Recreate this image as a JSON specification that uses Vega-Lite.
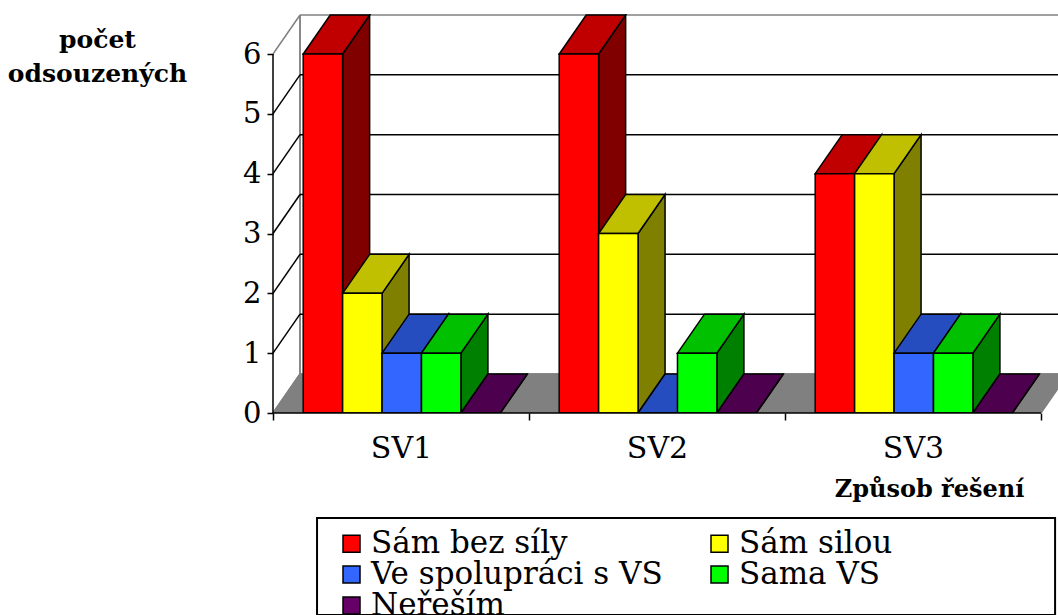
{"$schema":"https://vega.github.io/schema/vega-lite/v6.json","width":785,"height":399,"autosize":{"type":"none"},"padding":{"left":273,"top":14,"right":0,"bottom":202},"background":"white","config":{"view":{"stroke":null},"font":"DejaVu Serif"},
"layer":[
{"data":{"values":[{"surface":"left"},{"surface":"back"}]},"mark":{"type":"rule","color":"#808080","strokeWidth":1.5,"clip":true},"encoding":{"x":{"datum":0.1055,"type":"quantitative","scale":{"domain":[0,3.0664],"nice":false,"zero":false},"axis":{"values":[0,1,2,3],"labelExpr":"datum.value<3?'SV'+(datum.value+1):''","labelOffset":128,"labelFlush":false,"labelBound":false,"labelOverlap":false,"labelFontSize":30,"labelFont":"DejaVu Serif","labelColor":"#000","labelPadding":13,"domain":false,"grid":false,"tickColor":"#000","tickWidth":1.5,"tickSize":7,"title":"Způsob řešení","titleX":656,"titleY":76,"titleFontSize":24,"titleFontWeight":"bold","titleFont":"DejaVu Serif","titleColor":"#000","titleAlign":"center","titleBaseline":"middle"}},"y":{"datum":0.652,"type":"quantitative","scale":{"domain":[0,6.669],"nice":false,"zero":false},"axis":{"values":[0,1,2,3,4,5,6],"format":"d","labelFontSize":29,"labelFont":"DejaVu Serif","labelColor":"#000","labelPadding":6,"labelFlush":false,"domain":false,"grid":false,"tickColor":"#000","tickWidth":1.5,"tickSize":6,"title":["počet","odsouzených"],"titleX":-176,"titleY":25,"titleAngle":0,"titleFontSize":25,"titleFontWeight":"bold","titleFont":"DejaVu Serif","titleColor":"#000","titleAlign":"center","titleBaseline":"middle","titleLineHeight":34}},"y2":{"datum":6.652}}},
{"data":{"values":[{"level":0},{"level":1},{"level":2},{"level":3},{"level":4},{"level":5},{"level":6}]},"transform":[{"calculate":"datum.level+0.652","as":"back"},{"calculate":"datum.level==0||datum.level==6?'edge':'grid'","as":"kind"}],"mark":{"type":"rule","strokeWidth":1.5,"clip":true},"encoding":{"x":{"datum":0.1055,"type":"quantitative"},"x2":{"datum":3.0664},"y":{"field":"back","type":"quantitative"},"stroke":{"field":"kind","type":"nominal","scale":{"domain":["edge","grid"],"range":["#808080","#000000"]},"legend":null}}},
{"data":{"values":[{"level":0},{"level":1},{"level":2},{"level":3},{"level":4},{"level":5},{"level":6}]},"transform":[{"calculate":"datum.level+0.652","as":"back"},{"calculate":"datum.level==0||datum.level==6?'edge':'grid'","as":"kind"}],"mark":{"type":"rule","strokeWidth":1.5},"encoding":{"x":{"datum":0,"type":"quantitative"},"x2":{"datum":0.1055},"y":{"field":"level","type":"quantitative"},"y2":{"field":"back"},"stroke":{"field":"kind","type":"nominal","legend":null}}},
{"data":{"values":[{"surface":"floor"}]},"transform":[{"calculate":"[{x:0,y:0,y2:0},{x:0.1055,y:0.652,y2:0},{x:3,y:0.652,y2:0},{x:3.1055,y:0.652,y2:0.652}]","as":"v"},{"flatten":["v"]},{"calculate":"datum.v.x","as":"vx"},{"calculate":"datum.v.y","as":"vy"},{"calculate":"datum.v.y2","as":"vy2"}],"mark":{"type":"area","fill":"#808080","stroke":"#808080","strokeWidth":1.5,"clip":true},"encoding":{"x":{"field":"vx","type":"quantitative"},"y":{"field":"vy","type":"quantitative"},"y2":{"field":"vy2"}}},
{"data":{"values":[
{"sv":"SV1","series":"Sám bez síly","value":6},{"sv":"SV1","series":"Sám silou","value":2},{"sv":"SV1","series":"Ve spolupráci s VS","value":1},{"sv":"SV1","series":"Sama VS","value":1},{"sv":"SV1","series":"Neřeším","value":0},
{"sv":"SV2","series":"Sám bez síly","value":6},{"sv":"SV2","series":"Sám silou","value":3},{"sv":"SV2","series":"Ve spolupráci s VS","value":0},{"sv":"SV2","series":"Sama VS","value":1},{"sv":"SV2","series":"Neřeším","value":0},
{"sv":"SV3","series":"Sám bez síly","value":4},{"sv":"SV3","series":"Sám silou","value":4},{"sv":"SV3","series":"Ve spolupráci s VS","value":1},{"sv":"SV3","series":"Sama VS","value":1},{"sv":"SV3","series":"Neřeším","value":0}]},
"transform":[
{"calculate":"indexof(['SV1','SV2','SV3'],datum.sv)+0.118+0.154*indexof(['Sám bez síly','Sám silou','Ve spolupráci s VS','Sama VS','Neřeším'],datum.series)","as":"a"},
{"calculate":"datum.a+0.154","as":"b"},
{"calculate":"[{f:' side',x:datum.b,y:datum.value,y2:0},{f:' side',x:datum.b+0.1055,y:datum.value+0.652,y2:0.652},{f:' top',x:datum.a,y:datum.value,y2:datum.value},{f:' top',x:datum.a+0.1055,y:datum.value+0.652,y2:datum.value},{f:' top',x:datum.b,y:datum.value+0.652,y2:datum.value},{f:' top',x:datum.b+0.1055,y:datum.value+0.652,y2:datum.value+0.652},{f:'',x:datum.a,y:datum.value,y2:0},{f:'',x:datum.b,y:datum.value,y2:0}]","as":"v"},
{"flatten":["v"]},
{"calculate":"datum.v.x","as":"vx"},{"calculate":"datum.v.y","as":"vy"},{"calculate":"datum.v.y2","as":"vy2"},
{"calculate":"datum.series+datum.v.f","as":"face"},
{"calculate":"datum.sv+datum.face","as":"polygon"}],
"mark":{"type":"area","stroke":"#000","strokeWidth":1.5,"clip":true},
"encoding":{"x":{"field":"vx","type":"quantitative"},"y":{"field":"vy","type":"quantitative"},"y2":{"field":"vy2"},"detail":{"field":"polygon","type":"nominal"},
"color":{"field":"face","type":"nominal","scale":{"domain":["Sám bez síly","Sám silou","Ve spolupráci s VS","Sama VS","Neřeším","Sám bez síly top","Sám silou top","Ve spolupráci s VS top","Sama VS top","Neřeším top","Sám bez síly side","Sám silou side","Ve spolupráci s VS side","Sama VS side","Neřeším side"],"range":["#ff0000","#ffff00","#3366ff","#00ff00","#660066","#c00000","#c0c000","#264dbf","#00c000","#4d004d","#800000","#808000","#1a3380","#008000","#330033"]},
"legend":{"values":["Sám bez síly","Sám silou","Ve spolupráci s VS","Sama VS","Neřeším"],"title":null,"orient":"none","legendX":63,"legendY":514,"direction":"horizontal","columns":2,"columnPadding":41,"rowPadding":-2,"gridAlign":"each","symbolType":"square","symbolSize":289,"symbolStrokeColor":"#000","symbolStrokeWidth":1.5,"symbolOpacity":1,"labelFontSize":31,"labelFont":"DejaVu Serif","labelColor":"#000","labelOffset":4,"labelLimit":500}}}},
{"data":{"values":[{"axis":"x"}]},"mark":{"type":"rule","color":"#000","strokeWidth":1.5},"encoding":{"x":{"datum":0,"type":"quantitative"},"x2":{"datum":3},"y":{"datum":0,"type":"quantitative"}}},
{"data":{"values":[{"axis":"y"}]},"mark":{"type":"rule","color":"#000","strokeWidth":1.5},"encoding":{"x":{"datum":0,"type":"quantitative"},"y":{"datum":0,"type":"quantitative"},"y2":{"datum":6}}},
{"data":{"values":[{"box":"legend"}]},"mark":{"type":"rect","fill":null,"stroke":"#000","strokeWidth":2},"encoding":{"x":{"datum":0.172,"type":"quantitative"},"x2":{"datum":3.055},"y":{"datum":-1.755,"type":"quantitative"},"y2":{"datum":-3.376}}}
]}
